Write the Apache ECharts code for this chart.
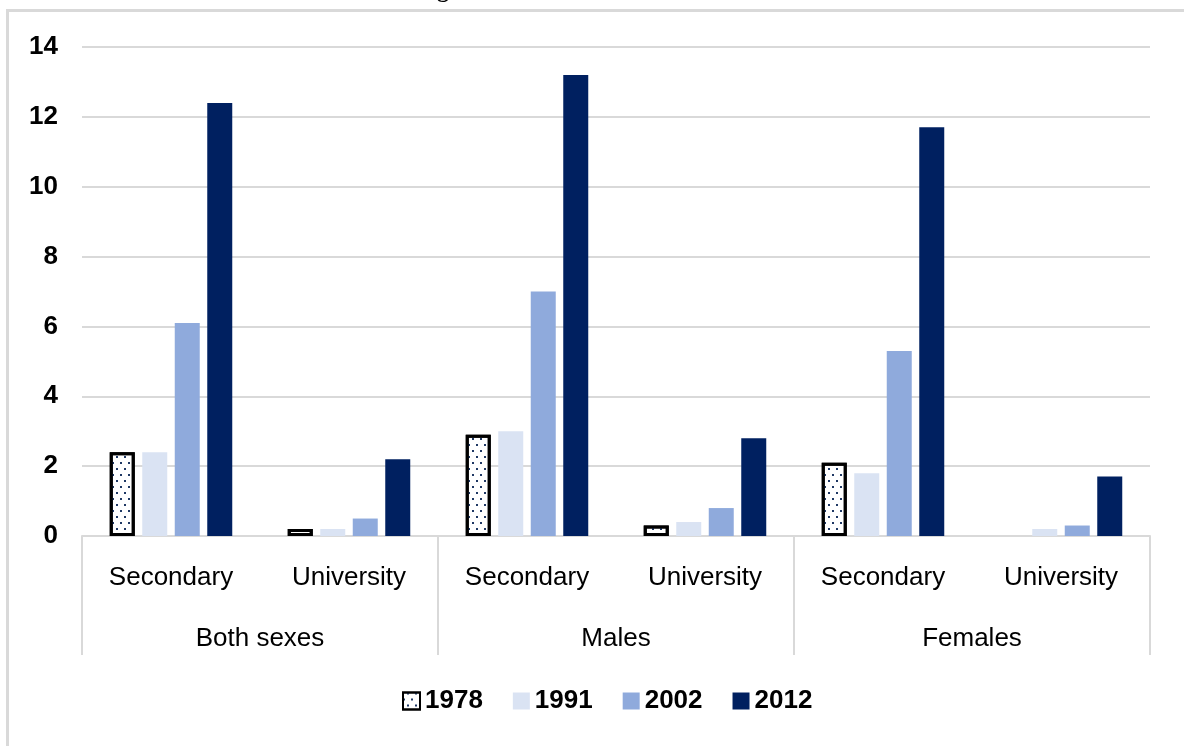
<!DOCTYPE html>
<html lang="en">
<head>
    <meta charset="UTF-8">
    <title>Secondary and university education, 1978-2012</title>
    <script type="text/javascript" src="https://cdn.jsdelivr.net/npm/echarts@6/dist/echarts.min.js"></script>
    <style type="text/css">
        html, body { margin: 0; padding: 0; background: #ffffff; }
        #main { width: 1184px; height: 746px; }
    </style>
</head>
<body>
    <div id="main"></div>
    <script type="text/javascript">
        // level names (inner axis) and sex groups (outer axis)
        var levels = ['Secondary', 'University', 'Secondary', 'University', 'Secondary', 'University'];
        var groups = ['Both sexes', 'Males', 'Females'];
        var years = ['1978', '1991', '2002', '2012'];

        // values per year, in the order of "levels"
        var v1978 = [2.4, 0.2, 2.9, 0.3, 2.1, '-'];
        var v1991 = [2.4, 0.2, 3.0, 0.4, 1.8, 0.2];
        var v2002 = [6.1, 0.5, 7.0, 0.8, 5.3, 0.3];
        var v2012 = [12.4, 2.2, 13.2, 2.8, 11.7, 1.7];

        var yTicks = { min: 0, max: 14, interval: 2 };

        (function () {
            var font = '"Liberation Sans", Arial, sans-serif';
            var gridColor = '#d9d9d9';

            function bar(name, data, style) {
                return {
                    name: name,
                    type: 'bar',
                    data: data,
                    barWidth: 25,
                    barGap: '30%',
                    xAxisIndex: 0,
                    itemStyle: style
                };
            }

            var option = {
                backgroundColor: '#ffffff',
                animation: false,
                textStyle: { fontFamily: font },
                grid: { left: 82, right: 34, top: 47, bottom: 210 },
                graphic: [
                    {
                        type: 'rect',
                        left: 5, top: 8,
                        shape: { width: 1300, height: 900 },
                        style: { fill: null, stroke: gridColor, lineWidth: 3 },
                        silent: true
                    },
                    {
                        type: 'text',
                        left: 437, top: -21,
                        style: { text: 'g', font: 'bold 24px "Liberation Serif", serif', fill: '#000' },
                        silent: true
                    }
                ],
                legend: {
                    bottom: 27,
                    left: 397,
                    itemWidth: 17,
                    itemHeight: 17,
                    itemGap: 30,
                    icon: 'rect',
                    textStyle: { fontSize: 26, fontWeight: 'bold', color: '#000', fontFamily: font },
                    data: years
                },
                xAxis: [
                    {
                        type: 'category',
                        data: levels,
                        position: 'bottom',
                        axisLine: { show: true, lineStyle: { color: gridColor, width: 2 } },
                        axisTick: { show: false },
                        axisLabel: { margin: 29, fontSize: 26, color: '#000', fontFamily: font }
                    },
                    {
                        type: 'category',
                        data: groups,
                        position: 'bottom',
                        axisLine: { show: false },
                        axisTick: { show: true, length: 119, lineStyle: { color: gridColor, width: 2 } },
                        axisLabel: { margin: 90, fontSize: 26, color: '#000', fontFamily: font }
                    }
                ],
                yAxis: {
                    type: 'value',
                    min: yTicks.min,
                    max: yTicks.max,
                    interval: yTicks.interval,
                    axisLine: { show: false },
                    axisTick: { show: false },
                    splitLine: { lineStyle: { color: gridColor, width: 2 } },
                    axisLabel: { margin: 24, fontSize: 26, fontWeight: 'bold', color: '#000', fontFamily: font }
                },
                series: [
                    bar(years[0], v1978, {
                        color: '#ffffff',
                        borderColor: '#000000',
                        borderWidth: 3,
                        decal: {
                            symbol: 'rect',
                            symbolSize: 1,
                            color: '#1f3864',
                            dashArrayX: [[2, 6], [0, 4, 2, 2]],
                            dashArrayY: [2, 4],
                            rotation: 0
                        }
                    }),
                    bar(years[1], v1991, { color: '#dae3f3' }),
                    bar(years[2], v2002, { color: '#8faadc' }),
                    bar(years[3], v2012, { color: '#002060' })
                ]
            };

            var myChart = echarts.init(document.getElementById('main'));
            myChart.setOption(option);
        })();
    </script>
</body>
</html>
